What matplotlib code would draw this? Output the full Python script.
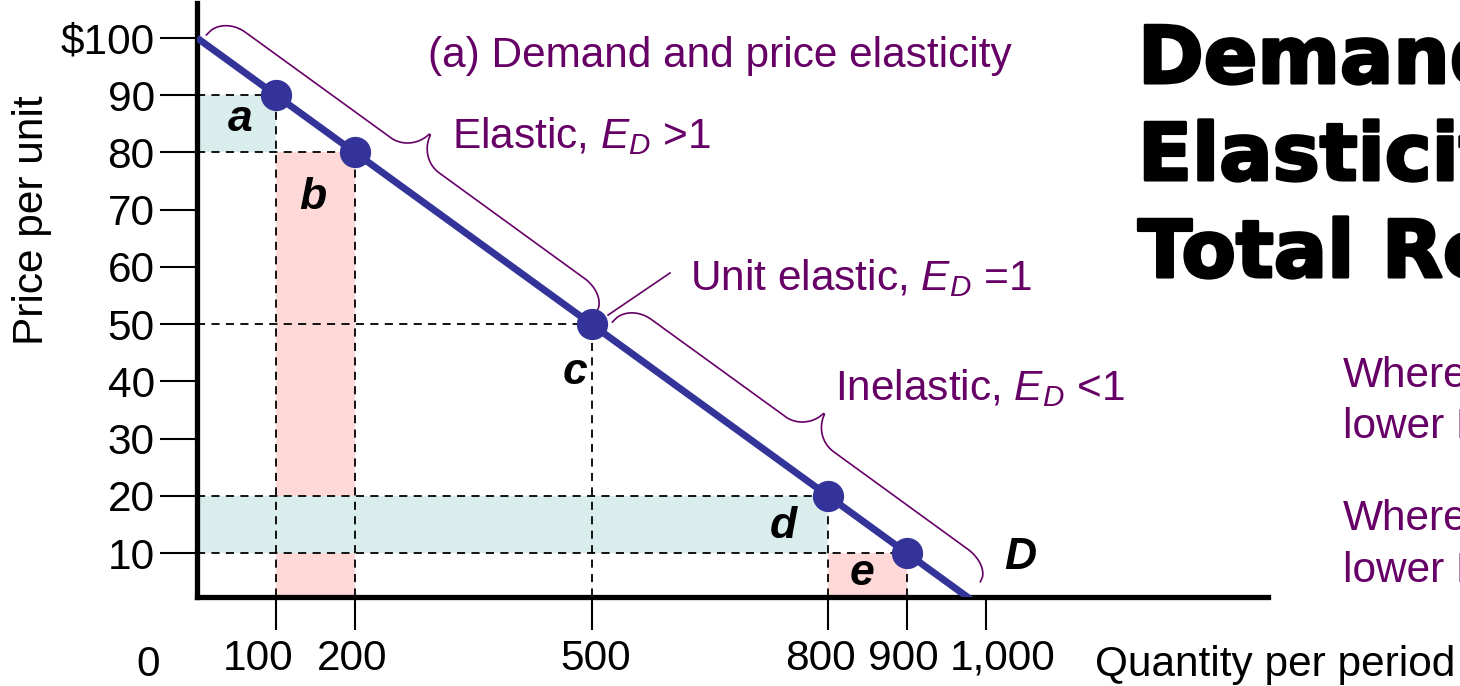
import matplotlib
matplotlib.use("Agg")
import matplotlib.pyplot as plt
import matplotlib.patheffects as pe
from matplotlib.transforms import ScaledTranslation
import numpy as np

plt.rcParams['font.family'] = ['Liberation Sans', 'DejaVu Sans']
plt.rcParams['mathtext.fontset'] = 'custom'
plt.rcParams['mathtext.it'] = 'Liberation Sans:italic'
plt.rcParams['mathtext.rm'] = 'Liberation Sans'

# ---------------- data ----------------
demand_q = [0, 1000]
demand_p = [100, 0]
point_q = [100, 200, 500, 800, 900]
point_p = [90, 80, 50, 20, 10]
point_labels = ['a', 'b', 'c', 'd', 'e']
y_ticks = [10, 20, 30, 40, 50, 60, 70, 80, 90, 100]
y_tick_labels = ['10', '20', '30', '40', '50', '60', '70', '80', '90', '$100']
x_ticks = [100, 200, 500, 800, 900, 1000]
x_tick_labels = ['100', '200', '500', '800', '900', '1,000']
# pairs of points forming revenue-change rectangles
rect_pairs = [(0, 1), (3, 4)]

# ---------------- styles ----------------
NAVY = '#333399'
PURPLE = '#660066'
CYAN = '#DAEDED'
PINK = '#FFD8D8'
FS = 30.5

W, H = 1460, 686
fig = plt.figure(figsize=(W / 100, H / 100), dpi=100)
ax = fig.add_axes([197 / W, 1 - 597 / H, (1268 - 197) / W, (597 - 3) / H])
ax.set_xlim(0, 1357.4)
ax.set_ylim(2.36, 106.1)
ax.patch.set_alpha(0)

for s in ['top', 'right']:
    ax.spines[s].set_visible(False)
for s in ['left', 'bottom']:
    ax.spines[s].set_linewidth(3.8)
    ax.spines[s].set_color('black')
    ax.spines[s].set_capstyle('projecting')

ax.set_yticks(y_ticks)
ax.set_yticklabels(y_tick_labels)
ax.set_xticks(x_ticks)
ax.set_xticklabels(x_tick_labels)
ax.tick_params(axis='y', length=27, width=1.5, pad=3.5, labelsize=FS, direction='out')
ax.tick_params(axis='x', length=24, width=1.5, pad=6, labelsize=FS, direction='out')

# the slide's quantity labels sit slightly off their ticks
x_label_shift_px = [-18, -3, 4.5, -8, -4, 17]
for lbl, dx in zip(ax.xaxis.get_majorticklabels(), x_label_shift_px):
    lbl.set_transform(lbl.get_transform() + ScaledTranslation(dx / 100, 0, fig.dpi_scale_trans))


def price_at(q):
    return float(np.interp(q, demand_q, demand_p))


# revenue rectangles
for i, j in rect_pairs:
    q0, p0 = point_q[i], point_p[i]
    q1, p1 = point_q[j], point_p[j]
    ax.fill_between([0, q0], p1, p0, color=CYAN, lw=0, zorder=1)
    ax.fill_between([q0, q1], 0, p1, color=PINK, lw=0, zorder=1)

# dashed guides
for q, p in zip(point_q, point_p):
    ax.plot([0, q], [p, p], color='black', lw=1.3, ls=(0, (4.5, 3.5)), zorder=2)
    ax.plot([q, q], [0, p], color='black', lw=1.3, ls=(0, (4.5, 3.5)), zorder=2)

# demand curve and points
ax.plot(demand_q, demand_p, color=NAVY, lw=5, solid_capstyle='butt', zorder=3)
ax.plot(point_q, point_p, 'o', color=NAVY, ms=21.5, zorder=4)

# letters
letter_pos = {'a': (54.5, 85.7), 'b': (147, 72.1), 'c': (479, 41.5),
              'd': (742.7, 14.6), 'e': (842.8, 6.55)}
for lab in point_labels:
    x, y = letter_pos[lab]
    ax.text(x, y, lab, fontsize=32, fontweight='bold', fontstyle='italic',
            ha='center', va='center', zorder=5)
ax.text(1043, 9.2, 'D', fontsize=32, fontweight='bold', fontstyle='italic',
        ha='center', va='center', zorder=5)


# braces
def brace(q0, q1, s0, h, hc, s1, r, n=400):
    p0 = ax.transData.transform((q0, price_at(q0)))
    p1 = ax.transData.transform((q1, price_at(q1)))
    d = p1 - p0
    L = np.hypot(*d)
    t = d / L
    nrm = np.array([-t[1], t[0]])
    if nrm[1] < 0:
        nrm = -nrm
    u = np.linspace(0, L, n)
    off = np.empty_like(u)
    m = L / 2
    for k, uu in enumerate(u):
        if uu <= m:
            v, s = uu, s0
        else:
            v, s = L - uu, s1
        if v < r:
            off[k] = s + (h - s) * np.sqrt(max(0.0, 1 - (1 - v / r) ** 2))
        elif v < m - r:
            off[k] = h
        else:
            w = (v - (m - r)) / r
            off[k] = h + (hc - h) * (1 - np.sqrt(max(0.0, 1 - w ** 2)))
    pts = p0[None, :] + u[:, None] * t[None, :] + off[:, None] * nrm[None, :]
    dpts = ax.transData.inverted().transform(pts)
    ax.plot(dpts[:, 0], dpts[:, 1], color=PURPLE, lw=1.2, clip_on=False, zorder=3)


brace(6, 497, 8, 33, 65, 12, 30)
brace(516, 978, 14, 39, 70, 20, 30)
ax.plot([521, 599.5], [51.6, 58.95], color=PURPLE, lw=1.2, zorder=3)

# purple annotations
ax.text(292.8, 94.9, '(a) Demand and price elasticity', fontsize=FS, color=PURPLE,
        ha='left', va='baseline')
ax.text(323.2, 80.8, 'Elastic, $E_D$ >1', fontsize=FS, color=PURPLE,
        ha='left', va='baseline')
ax.text(624.8, 56.0, 'Unit elastic, $E_D$ =1', fontsize=FS, color=PURPLE,
        ha='left', va='baseline')
ax.text(808.6, 36.8, 'Inelastic, $E_D$ <1', fontsize=FS, color=PURPLE,
        ha='left', va='baseline')

# axis labels
fig.text(148 / W, 1 - 676 / H, '0', fontsize=FS, ha='center', va='baseline')
fig.text(1095 / W, 1 - 676 / H, 'Quantity per period', fontsize=FS,
         ha='left', va='baseline')
fig.text(43 / W, 1 - 220 / H, 'Price per unit', fontsize=FS, rotation=90,
         rotation_mode='anchor', ha='center', va='baseline')

# title (clipped at the right edge as in the slide)
title_lines = ['Demand', 'Elasticity', 'Total Revenue']
for line, base in zip(title_lines, [83, 180, 277]):
    fig.text(1138 / W, 1 - base / H, line, fontsize=57, fontweight='bold',
             family=['DejaVu Sans'], ha='left', va='baseline',
             path_effects=[pe.withStroke(linewidth=2.2, foreground='black')])

# side notes (clipped at the right edge)
side_lines = ['Where', 'lower P', 'Where', 'lower P']
for line, base in zip(side_lines, [387, 438, 530, 582]):
    fig.text(1343 / W, 1 - base / H, line, fontsize=FS, color=PURPLE,
             ha='left', va='baseline')

fig.savefig('out.png', dpi=100)
